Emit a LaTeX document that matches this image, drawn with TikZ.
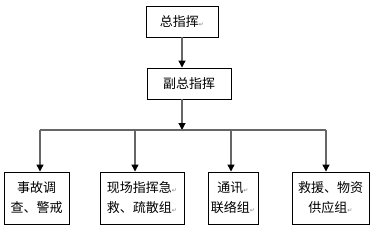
\documentclass[tikz,border=0pt]{standalone}
\usepackage{fontspec}
\setmainfont{Noto Sans CJK SC}
\newfontfamily\symfont{DejaVu Sans}
\usetikzlibrary{arrows.meta,positioning}
\newcommand{\retmark}{{\symfont\fontsize{6}{6}\selectfont\color{gray}↵}}
\tikzset{
  box/.style={draw, line width=0.9pt, align=center, inner sep=0pt, font=\fontsize{13}{20}\selectfont},
  link/.style={draw=black!60, line width=1.2pt},
  arrow/.style={link, -{Triangle[length=7pt,width=7pt,color=black]}}
}

\begin{document}
\begin{tikzpicture}[x=1pt, y=-1pt]
  \useasboundingbox (0,0) rectangle (380,228);
  \node[box, minimum width=72pt, minimum height=31pt] (top) at (182,21.5) {总指挥\retmark};
  \node[box, minimum width=84pt, minimum height=31pt] (sub) at (189,83.5) {副总指挥};

  \node[box, minimum width=65pt, minimum height=52pt] (b1) at (36.5,198) {事故调\\查、警戒};
  \node[box, minimum width=84pt, minimum height=52pt] (b2) at (142,198) {现场指挥急\retmark\\救、疏散组\retmark};
  \node[box, minimum width=50pt, minimum height=52pt] (b3) at (233,198) {通讯\retmark\\联络组\retmark};
  \node[box, minimum width=77pt, minimum height=52pt] (b4) at (330.5,198) {救援、物资\\供应组\retmark};

  % branch points on the bar
  \coordinate (hub) at (182,130);
  \coordinate (h1) at (40,130);
  \coordinate (h2) at (135,130);
  \coordinate (h3) at (231,130);
  \coordinate (h4) at (326,130);

  \draw[arrow] (top.south) -- (top.south |- sub.north);
  \draw[arrow] (hub |- sub.south) -- (hub);
  \draw[link] (h1) -- (h4);
  \foreach \i in {1,2,3,4}
    \draw[arrow] (h\i) -- (h\i |- b\i.north);
\end{tikzpicture}
\end{document}
